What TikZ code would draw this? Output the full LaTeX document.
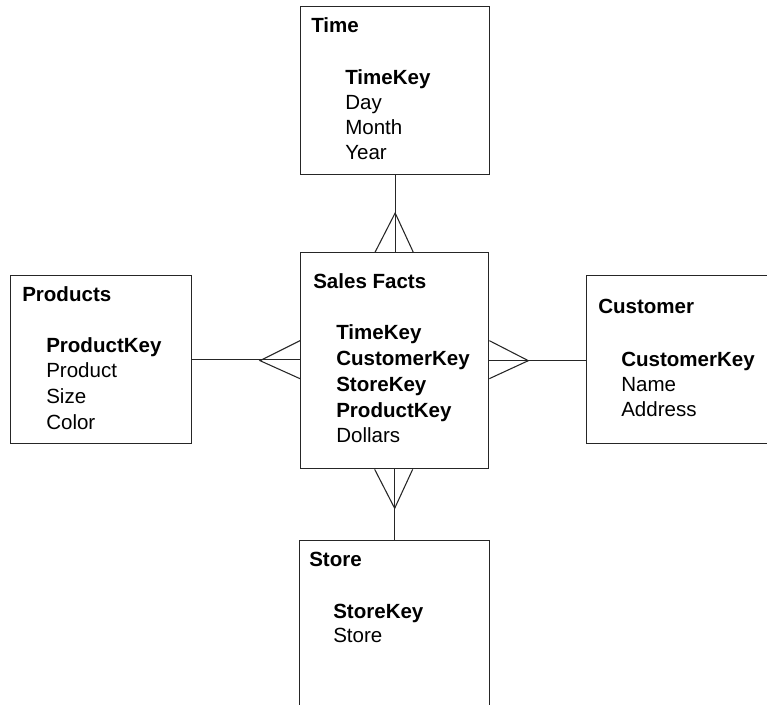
\documentclass[tikz,border=0pt]{standalone}
\usepackage{fontspec}
\setmainfont{Liberation Sans}
\usetikzlibrary{calc}
\begin{document}
\begin{tikzpicture}[x=0.75pt,y=-0.75pt,
  tbl/.style={draw=black!85,line width=1pt,rectangle,inner sep=0pt,anchor=north west},
  lbl/.style={inner sep=0pt,anchor=base west,font=\fontsize{15.4}{19}\selectfont},
  key/.style={lbl,font=\fontsize{15.4}{19}\selectfont\bfseries},
  link/.style={draw=black!85,line width=1pt},
  crow/.style={draw=black!85,line width=0.8pt}]
\useasboundingbox (0,0) rectangle (767,705);
\clip (0,0) rectangle (767,705);

% entity boxes
\node[tbl,minimum width=141.75pt,minimum height=126pt] (time) at (300,6) {};
\node[tbl,minimum width=141pt,minimum height=162pt] (sales) at (300,252) {};
\node[tbl,minimum width=135.75pt,minimum height=126pt] (products) at (10,275) {};
\node[tbl,minimum width=150pt,minimum height=126pt] (customer) at (586,275) {};
\node[tbl,minimum width=142.5pt,minimum height=135pt] (store) at (299,540) {};

% Time
\node[key] (timeT) at (311,33) {Time};
\node[key] (timeK) at (345,85) {TimeKey};
\node[lbl] (timeD) at (345,110) {Day};
\node[lbl] (timeM) at (345,135) {Month};
\node[lbl] (timeY) at (345,160) {Year};

% Sales Facts
\node[key] (salesT) at (313,289) {Sales Facts};
\node[key] (salesK1) at (336,340) {TimeKey};
\node[key] (salesK2) at (336,366) {CustomerKey};
\node[key] (salesK3) at (336,392) {StoreKey};
\node[key] (salesK4) at (336,418) {ProductKey};
\node[lbl] (salesD) at (336,443) {Dollars};

% Products
\node[key] (prodT) at (22,302) {Products};
\node[key] (prodK) at (46,353) {ProductKey};
\node[lbl] (prodP) at (46,378) {Product};
\node[lbl] (prodS) at (46,404) {Size};
\node[lbl] (prodC) at (46,430) {Color};

% Customer
\node[key] (custT) at (598,314) {Customer};
\node[key] (custK) at (621,367) {CustomerKey};
\node[lbl] (custN) at (621,392) {Name};
\node[lbl] (custA) at (621,417) {Address};

% Store
\node[key] (storeT) at (309,566) {Store};
\node[key] (storeK) at (333,618) {StoreKey};
\node[lbl] (storeS) at (333,642) {Store};

% relationship lines
\draw[link] (time.south) -- (time.south |- sales.north);
\draw[link] (sales.south) -- (sales.south |- store.north);
\draw[link] (products.east) -- (products.east -| sales.west);
\draw[link] (sales.east) -- (sales.east -| customer.west);

% crow's feet on the fact table side
\draw[crow] ($(time.south |- sales.north)+(-20,0)$) -- ($(time.south |- sales.north)+(0,-39)$) -- ($(time.south |- sales.north)+(18,0)$);
\draw[crow] ($(sales.south)+(-20,0)$) -- ($(sales.south)+(0,39)$) -- ($(sales.south)+(18,0)$);
\draw[crow] ($(sales.west)+(0,-20)$) -- ($(sales.west)+(-40,0)$) -- ($(sales.west)+(0,18)$);
\draw[crow] ($(sales.east)+(0,-20)$) -- ($(sales.east)+(39,0)$) -- ($(sales.east)+(0,18)$);
\end{tikzpicture}
\end{document}
